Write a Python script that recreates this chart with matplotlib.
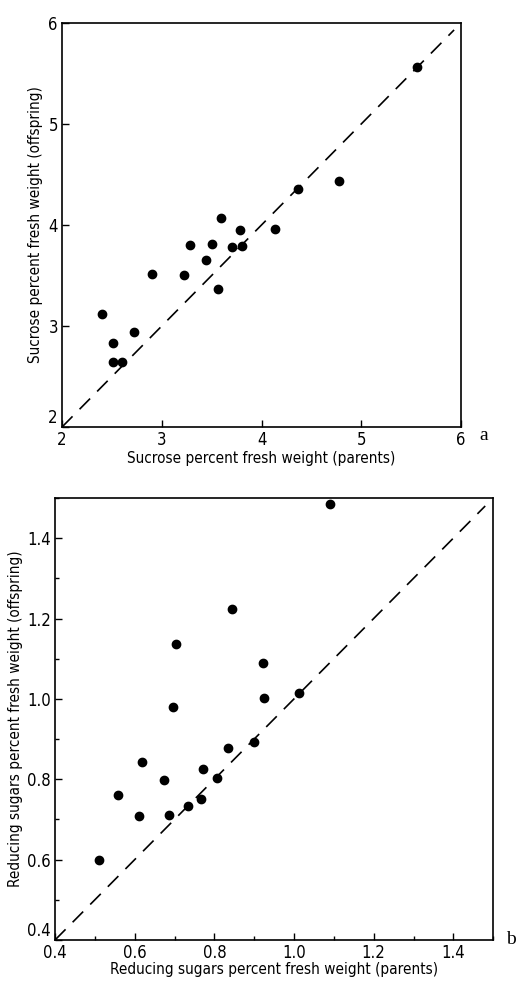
import matplotlib
matplotlib.use("Agg")
import matplotlib.pyplot as plt
from matplotlib.ticker import MultipleLocator, FormatStrFormatter

# panel a: sucrose
suc_parents = [2.40, 2.51, 2.51, 2.60, 2.72, 2.90, 3.22, 3.28, 3.44, 3.50,
               3.56, 3.59, 3.70, 3.78, 3.80, 4.13, 4.37, 4.78, 5.56]
suc_offspring = [3.12, 2.83, 2.64, 2.64, 2.94, 3.51, 3.50, 3.80, 3.65, 3.81,
                 3.37, 4.07, 3.78, 3.95, 3.79, 3.96, 4.36, 4.43, 5.56]

# panel b: reducing sugars
red_parents = [0.51, 0.558, 0.61, 0.619, 0.674, 0.687, 0.697, 0.704, 0.733, 0.766,
               0.772, 0.807, 0.834, 0.844, 0.900, 0.921, 0.924, 1.013, 1.090]
red_offspring = [0.60, 0.762, 0.708, 0.842, 0.799, 0.710, 0.980, 1.137, 0.733, 0.750,
                 0.826, 0.802, 0.879, 1.223, 0.893, 1.090, 1.003, 1.014, 1.484]

plt.rcParams['font.family'] = ['DejaVu Sans']
plt.rcParams['font.stretch'] = 'condensed'
plt.rcParams['font.size'] = 10

fig = plt.figure(figsize=(5.21, 9.81), dpi=100)

def style(ax):
  for s in ax.spines.values():
    s.set_linewidth(1.2)
  ax.tick_params(which='both', direction='in', top=False, right=False, labelsize=12)
  ax.tick_params(which='major', length=5, width=1, pad=3)
  ax.tick_params(which='minor', length=3, width=1)

ax1 = fig.add_axes([0.119, 0.5647, 0.766, 0.412])
ax1.plot([2, 5.93], [2, 5.93], color='black', lw=1.2, dashes=(9, 6))
ax1.scatter(suc_parents, suc_offspring, s=36, color='black', zorder=3)
ax1.set_xlim(2, 6)
ax1.set_ylim(2, 6)
ax1.xaxis.set_major_locator(MultipleLocator(1))
ax1.yaxis.set_major_locator(MultipleLocator(1))
style(ax1)
ax1.set_xlabel("Sucrose percent fresh weight (parents)", fontsize=11, labelpad=1)
ax1.set_ylabel("Sucrose percent fresh weight (offspring)", fontsize=11, labelpad=4)
ax1.text(1.045, -0.02, "a", transform=ax1.transAxes, fontsize=14,
         family=['Liberation Serif', 'DejaVu Serif'], stretch='normal', va='center')

ax2 = fig.add_axes([0.1056, 0.0418, 0.841, 0.4506])
ax2.plot([0.4, 1.48], [0.4, 1.48], color='black', lw=1.2, dashes=(9, 6))
ax2.scatter(red_parents, red_offspring, s=36, color='black', zorder=3)
ax2.set_xlim(0.4, 1.5)
ax2.set_ylim(0.4, 1.5)
for axis in (ax2.xaxis, ax2.yaxis):
  axis.set_major_locator(MultipleLocator(0.2))
  axis.set_minor_locator(MultipleLocator(0.1))
  axis.set_major_formatter(FormatStrFormatter('%.1f'))
style(ax2)
ax2.set_xlabel("Reducing sugars percent fresh weight (parents)", fontsize=11, labelpad=0)
ax2.set_ylabel("Reducing sugars percent fresh weight (offspring)", fontsize=11, labelpad=3)
ax2.text(1.03, 0.0, "b", transform=ax2.transAxes, fontsize=14,
         family=['Liberation Serif', 'DejaVu Serif'], stretch='normal', va='center')

# lowest y labels sit a little above the corner, as in the original
fig.canvas.draw()
for ax in (ax1, ax2):
  ymin = ax.get_ylim()[0]
  for tick in ax.yaxis.get_major_ticks():
    if abs(tick.get_loc() - ymin) < 1e-6:
      tick.label1.set_va('bottom')

fig.savefig("out.png", dpi=100)
